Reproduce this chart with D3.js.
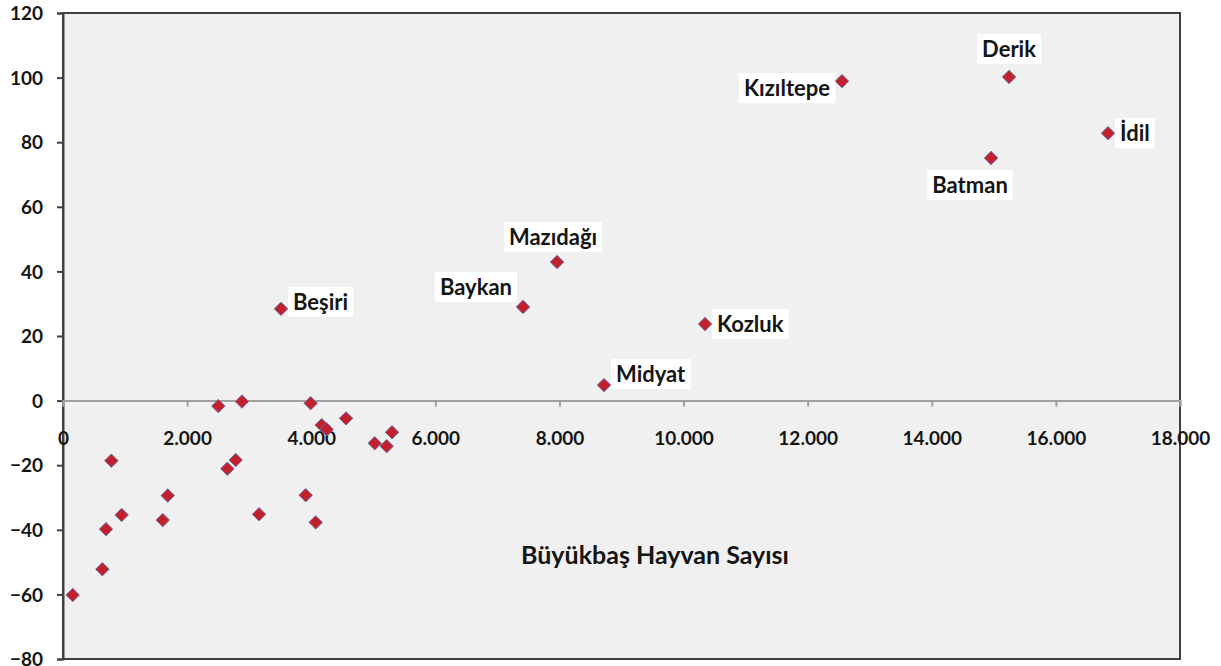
<!DOCTYPE html>
<html>
<head>
<meta charset="utf-8">
<script src="https://cdn.jsdelivr.net/npm/d3@7"></script>
<style>
  body { margin: 0; background: #fff; }
  text { font-family: Lato, "Open Sans", sans-serif; font-weight: bold; fill: #151515; }
</style>
</head>
<body>
<div id="chart"></div>
<script>
"use strict"

/* Data: büyükbaş hayvan sayısı (x) vs. value (y) */
let animals = [156, 634, 693, 779, 945, 1607, 1687, 2503, 2884, 2648, 2783, 3159,
    3991, 3911, 4072, 4169, 4249, 4561, 5023, 5216, 5302,
    15245, 12553, 16840, 14955, 7961, 7413, 3513, 10346, 8718];
let values = [-60.2, -52.2, -39.8, -18.6, -35.4, -37.0, -29.4, -1.7, -0.3, -21.1, -18.4, -35.2,
    -0.8, -29.3, -37.7, -7.6, -8.9, -5.5, -13.2, -14.1, -9.8,
    100.2, 98.9, 82.8, 75.1, 42.9, 29.0, 28.4, 23.7, 4.8];
let names = ["", "", "", "", "", "", "", "", "", "", "", "",
    "", "", "", "", "", "", "", "", "",
    "Derik", "Kızıltepe", "İdil", "Batman", "Mazıdağı", "Baykan", "Beşiri", "Kozluk", "Midyat"];
let xTicks = [0, 2000, 4000, 6000, 8000, 10000, 12000, 14000, 16000, 18000];
let yTicks = [-80, -60, -40, -20, 0, 20, 40, 60, 80, 100, 120];
let xTitle = "Büyükbaş Hayvan Sayısı";

/* label placement next to its point: [dx, dy, anchor] */
let labelPlace = {
    "Derik": [0, -28, "middle"],
    "Kızıltepe": [-12, 7, "end"],
    "İdil": [12, 0, "start"],
    "Batman": [-21, 27, "middle"],
    "Mazıdağı": [-4, -25, "middle"],
    "Baykan": [-11, -20, "end"],
    "Beşiri": [12, -7, "start"],
    "Kozluk": [12, 0, "start"],
    "Midyat": [12, -11, "start"]
};

let svgWidth = 1221;
let svgHeight = 666;
let plotLeft = 63, plotRight = 1180, plotTop = 13, plotBottom = 659;

let svg = d3.select("#chart").append("svg")
    .attr("width", svgWidth)
    .attr("height", svgHeight);

let xScale = d3.scaleLinear().domain([0, 18000]).range([plotLeft, plotRight]);
let yScale = d3.scaleLinear().domain([-80, 120]).range([plotBottom, plotTop]);

let loc = d3.formatLocale({ decimal: ",", thousands: ".", grouping: [3], currency: ["", ""] });
let fmt = loc.format(",");

/* plot area */
svg.append("rect")
    .attr("x", plotLeft).attr("y", plotTop)
    .attr("width", plotRight - plotLeft).attr("height", plotBottom - plotTop)
    .attr("fill", "#f0f0f0")
    .attr("stroke", "#404040")
    .attr("stroke-width", 2);

/* y axis */
let yAxis = svg.append("g")
    .attr("transform", "translate(" + plotLeft + ",0)")
    .call(d3.axisLeft(yScale).tickValues(yTicks).tickSize(6).tickPadding(14));
yAxis.select(".domain").attr("stroke", "#404040").attr("stroke-width", 2);
yAxis.selectAll(".tick line").attr("stroke", "#404040").attr("stroke-width", 2);
yAxis.selectAll("text").attr("font-size", 19).attr("font-family", null).attr("dy", "0.35em");

/* x axis at y = 0 */
let xAxis = svg.append("g")
    .attr("transform", "translate(0," + yScale(0) + ")")
    .call(d3.axisBottom(xScale).tickValues(xTicks).tickFormat(fmt).tickSize(6).tickPadding(25));
xAxis.select(".domain").attr("stroke", "#a0a0a0").attr("stroke-width", 2);
xAxis.selectAll(".tick line").attr("stroke", "#a0a0a0").attr("stroke-width", 2);
xAxis.selectAll("text").attr("font-size", 19).attr("font-family", null);

/* x title */
svg.append("text")
    .attr("x", 655)
    .attr("y", 564)
    .attr("text-anchor", "middle")
    .attr("font-size", 25)
    .text(xTitle);

let points = animals.map(function (a, i) {
    return { x: a, y: values[i], name: names[i] };
});

/* markers */
svg.selectAll("path.pt")
    .data(points)
    .join("path")
    .attr("class", "pt")
    .attr("d", d3.symbol(d3.symbolDiamond2, 115))
    .attr("transform", function (d) {
        return "translate(" + xScale(d.x) + "," + yScale(d.y) + ")";
    })
    .attr("fill", "#c3202b")
    .attr("stroke", "#6a6fa8")
    .attr("stroke-width", 1);

/* labels with white boxes */
let named = points.filter(function (d) { return d.name !== ""; });
let lab = svg.selectAll("g.lab")
    .data(named)
    .join("g")
    .attr("class", "lab");

lab.each(function (d) {
    let g = d3.select(this);
    let p = labelPlace[d.name];
    let t = g.append("text")
        .attr("x", xScale(d.x) + p[0])
        .attr("y", yScale(d.y) + p[1])
        .attr("dy", "0.35em")
        .attr("text-anchor", p[2])
        .attr("font-size", 22)
        .text(d.name);
    let bb = t.node().getBBox();
    g.insert("rect", "text")
        .attr("x", bb.x - 5)
        .attr("y", yScale(d.y) + p[1] - 15)
        .attr("width", bb.width + 10)
        .attr("height", 30)
        .attr("fill", "#fff");
});
</script>
</body>
</html>
